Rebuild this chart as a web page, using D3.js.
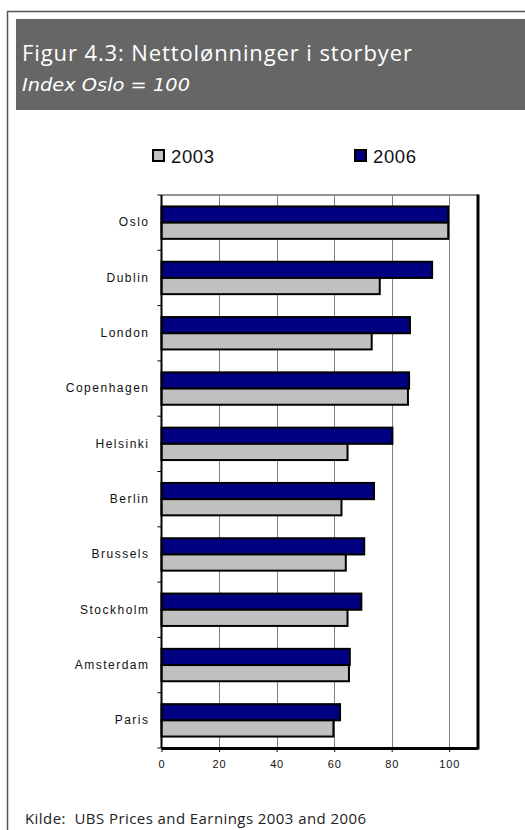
<!DOCTYPE html>
<html>
<head>
<meta charset="utf-8">
<script src="https://cdn.jsdelivr.net/npm/d3@7"></script>
<style>
  html, body { margin: 0; padding: 0; background: #fff; }
  svg { display: block; }
</style>
</head>
<body>
<svg id="chart" width="525" height="830"></svg>
<script>
// Net wages in major cities, index Oslo = 100
const cities = ["Oslo", "Dublin", "London", "Copenhagen", "Helsinki", "Berlin", "Brussels", "Stockholm", "Amsterdam", "Paris"];
const values2006 = [100, 94.4, 86.7, 86.4, 80.6, 74.2, 70.8, 69.8, 65.8, 62.4];
const values2003 = [100, 76.2, 73.4, 86.0, 65.0, 62.9, 64.4, 65.0, 65.5, 60.1];
const seriesNames = ["2006", "2003"];
const seriesColors = { "2006": "#000080", "2003": "#c0c0c0" };
const xTicks = [0, 20, 40, 60, 80, 100];

const titleText = "Figur 4.3: Nettolønninger i storbyer";
const subtitleText = "Index Oslo = 100";
const sourceText = "Kilde:  UBS Prices and Earnings 2003 and 2006";

const svg = d3.select("#chart");
const uiFont = "'Open Sans', 'DejaVu Sans', sans-serif";
const axisFont = "'Liberation Sans', Arial, sans-serif";

// Outer frame (left and top edges)
svg.append("path")
  .attr("d", "M7.5,830 V11.5 H525")
  .attr("fill", "none")
  .attr("stroke", "#555")
  .attr("stroke-width", 1.5);

// Header band
svg.append("rect")
  .attr("x", 16).attr("y", 19)
  .attr("width", 525 - 16).attr("height", 91)
  .attr("fill", "#666666");

svg.append("text")
  .attr("x", 22).attr("y", 61)
  .attr("fill", "#fff")
  .attr("font-family", uiFont)
  .attr("font-size", 22)
  .attr("font-weight", 500)
  .attr("textLength", 390)
  .attr("lengthAdjust", "spacing")
  .text(titleText);

svg.append("text")
  .attr("x", 22).attr("y", 90.5)
  .attr("fill", "#fff")
  .attr("font-family", "'DejaVu Sans', sans-serif")
  .attr("font-size", 18)
  .attr("font-style", "italic")
  .attr("textLength", 168)
  .attr("lengthAdjust", "spacingAndGlyphs")
  .text(subtitleText);

// Plot area
const plot = { left: 161.5, right: 478, top: 195, bottom: 748 };

const x = d3.scaleLinear().domain([0, 110]).range([plot.left, plot.right]);
const y = d3.scaleBand().domain(cities).range([plot.top, plot.bottom]).padding(0);
const ySub = d3.scaleBand().domain(seriesNames).range([0, y.bandwidth()])
  .paddingInner(0).paddingOuter(0.707);

const g = svg.append("g");

// Vertical gridlines
g.append("g")
  .selectAll("line")
  .data(xTicks.filter(d => d > 0))
  .join("line")
  .attr("x1", d => Math.round(x(d)) + 0.5)
  .attr("x2", d => Math.round(x(d)) + 0.5)
  .attr("y1", plot.top)
  .attr("y2", plot.bottom)
  .attr("stroke", "#808080")
  .attr("stroke-width", 1);

// Top border of plot area
g.append("line")
  .attr("x1", plot.left).attr("x2", plot.right)
  .attr("y1", plot.top).attr("y2", plot.top)
  .attr("stroke", "#707070").attr("stroke-width", 1.5);

// Bars
const rows = cities.map((c, i) => ({ city: c, "2006": values2006[i], "2003": values2003[i] }));
g.append("g")
  .selectAll("g")
  .data(rows)
  .join("g")
  .attr("transform", d => `translate(0,${y(d.city)})`)
  .selectAll("rect")
  .data(d => seriesNames.map(s => ({ key: s, value: d[s] })))
  .join("rect")
  .attr("x", x(0))
  .attr("y", d => ySub(d.key))
  .attr("width", d => x(d.value) - x(0) - 1)
  .attr("height", ySub.bandwidth())
  .attr("fill", d => seriesColors[d.key])
  .attr("stroke", "#000")
  .attr("stroke-width", 2);

// Right border
g.append("line")
  .attr("x1", plot.right).attr("x2", plot.right)
  .attr("y1", plot.top - 0.5).attr("y2", plot.bottom + 1.5)
  .attr("stroke", "#000").attr("stroke-width", 3);

// X axis
const xAxis = d3.axisBottom(x).tickValues(xTicks).tickSize(4).tickPadding(8)
  .tickFormat(d3.format("d"));
const xg = svg.append("g")
  .attr("transform", `translate(0,${plot.bottom})`)
  .call(xAxis);
xg.select(".domain")
  .attr("d", `M${plot.left},0.5H${plot.right}`)
  .attr("stroke", "#000").attr("stroke-width", 3);
xg.selectAll(".tick line").attr("stroke", "#000");
xg.selectAll(".tick text")
  .attr("font-family", axisFont)
  .attr("font-size", 11)
  .attr("letter-spacing", "0.8px")
  .attr("fill", "#111");

// Y axis with boundary ticks between categories
const yAxis = d3.axisLeft(y).tickSize(0).tickPadding(12);
const yg = svg.append("g")
  .attr("transform", `translate(${plot.left},0)`)
  .call(yAxis);
yg.select(".domain")
  .attr("d", `M0,${plot.top}V${plot.bottom}`)
  .attr("stroke", "#000").attr("stroke-width", 2);
yg.selectAll(".tick text")
  .attr("font-family", axisFont)
  .attr("font-size", 12)
  .attr("font-weight", "normal")
  .attr("letter-spacing", "1.5px")
  .attr("fill", "#111");
yg.append("g")
  .selectAll("line")
  .data(d3.range(cities.length + 1))
  .join("line")
  .attr("x1", -4).attr("x2", 0)
  .attr("y1", i => plot.top + i * y.step())
  .attr("y2", i => plot.top + i * y.step())
  .attr("stroke", "#000")
  .attr("stroke-width", 1);

// Legend
const legendItems = [
  { key: "2003", x: 152 },
  { key: "2006", x: 354 }
];
const legend = svg.append("g")
  .selectAll("g")
  .data(legendItems)
  .join("g")
  .attr("transform", d => `translate(${d.x},149)`);
legend.append("rect")
  .attr("x", 1).attr("y", 1)
  .attr("width", 11).attr("height", 11)
  .attr("fill", d => seriesColors[d.key])
  .attr("stroke", "#000")
  .attr("stroke-width", 2);
legend.append("text")
  .attr("x", 19).attr("y", 13.7)
  .attr("font-family", axisFont)
  .attr("font-size", 18.5)
  .attr("letter-spacing", "0.6px")
  .attr("fill", "#111")
  .text(d => d.key);

// Source
svg.append("text")
  .attr("x", 25).attr("y", 824)
  .attr("font-family", uiFont)
  .attr("font-size", 15)
  .attr("fill", "#222")
  .attr("textLength", 341)
  .attr("lengthAdjust", "spacing")
  .attr("xml:space", "preserve")
  .style("white-space", "pre")
  .text(sourceText);
</script>
</body>
</html>
